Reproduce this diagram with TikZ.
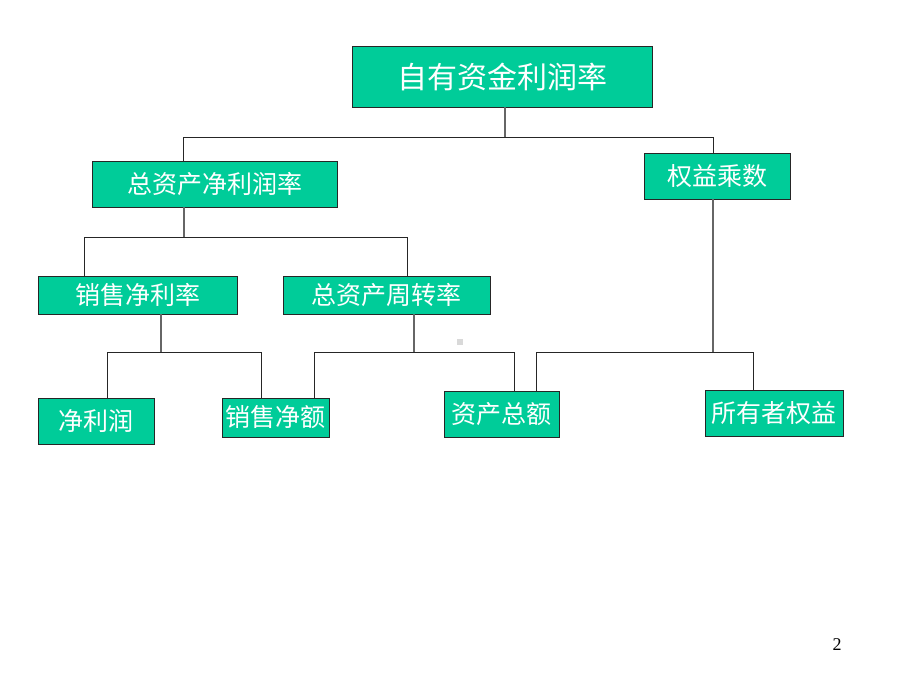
\documentclass[tikz,border=0pt]{standalone}
\usepackage{fontspec}
\newfontfamily\cjk{Noto Sans CJK SC}
\setmainfont{Liberation Serif}
\begin{document}
\begin{tikzpicture}[x=1pt,y=-1pt,
  box/.style={draw=black!85, line width=0.9pt, fill=boxgreen, text=white, inner sep=0pt, font=\cjk\fontsize{25}{27}\selectfont},
  trunk/.style={draw=black!60, line width=1.8pt},
  branch/.style={draw=black!85, line width=1pt}]
\definecolor{boxgreen}{HTML}{00CC99}
\useasboundingbox (0,0) rectangle (920,690);
% boxes (center, width, height)
\node[box, minimum width=300pt, minimum height=61pt, font=\cjk\fontsize{30}{32}\selectfont] (top) at (502,76.5) {自有资金利润率};
\node[box, minimum width=245pt, minimum height=46pt] (zzc) at (214.5,184) {总资产净利润率};
\node[box, minimum width=146pt, minimum height=46pt] (qy) at (717,176) {权益乘数};
\node[box, minimum width=199pt, minimum height=38pt] (xsjl) at (137.5,295) {销售净利率};
\node[box, minimum width=207pt, minimum height=38pt] (zzz) at (386.5,295) {总资产周转率};
\node[box, minimum width=116pt, minimum height=46pt] (jlr) at (96,421) {净利润};
\node[box, minimum width=107pt, minimum height=39pt] (xsje) at (275.5,417.5) {销售净额};
\node[box, minimum width=115pt, minimum height=46pt] (zcze) at (501.5,414) {资产总额};
\node[box, minimum width=138pt, minimum height=46pt] (syz) at (774,413) {所有者权益};
% junction coordinates
\coordinate (j1) at (505,137);
\coordinate (j1l) at (183,137);
\coordinate (j1r) at (713,137);
\coordinate (j2) at (184,237);
\coordinate (j2l) at (84,237);
\coordinate (j2r) at (407,237);
\coordinate (j3) at (161,352);
\coordinate (j3l) at (107,352);
\coordinate (j3r) at (261,352);
\coordinate (j4) at (414,352);
\coordinate (j4l) at (314,352);
\coordinate (j4r) at (514,352);
\coordinate (j5) at (713,352);
\coordinate (j5l) at (536,352);
\coordinate (j5r) at (753,352);
% level 1
\draw[trunk] (j1 |- top.south) -- (j1);
\draw[branch] (j1l) -- (j1r);
\draw[branch] (j1l) -- (j1l |- zzc.north);
\draw[branch] (j1r) -- (j1r |- qy.north);
% level 2
\draw[trunk] (j2 |- zzc.south) -- (j2);
\draw[branch] (j2l) -- (j2r);
\draw[branch] (j2l) -- (j2l |- xsjl.north);
\draw[branch] (j2r) -- (j2r |- zzz.north);
% level 3 left
\draw[trunk] (j3 |- xsjl.south) -- (j3);
\draw[branch] (j3l) -- (j3r);
\draw[branch] (j3l) -- (j3l |- jlr.north);
\draw[branch] (j3r) -- (j3r |- xsje.north);
% level 3 middle
\draw[trunk] (j4 |- zzz.south) -- (j4);
\draw[branch] (j4l) -- (j4r);
\draw[branch] (j4l) -- (j4l |- xsje.north);
\draw[branch] (j4r) -- (j4r |- zcze.north);
% level 3 right
\draw[trunk] (j5 |- qy.south) -- (j5);
\draw[branch] (j5l) -- (j5r);
\draw[branch] (j5l) -- (j5l |- zcze.north);
\draw[branch] (j5r) -- (j5r |- syz.north);
% small artifact
\fill[black!15] (457,339) rectangle (463,345);
% page number
\node[font=\fontsize{18}{20}\selectfont, inner sep=0pt] (pg) at (837,645) {2};
\end{tikzpicture}
\end{document}
